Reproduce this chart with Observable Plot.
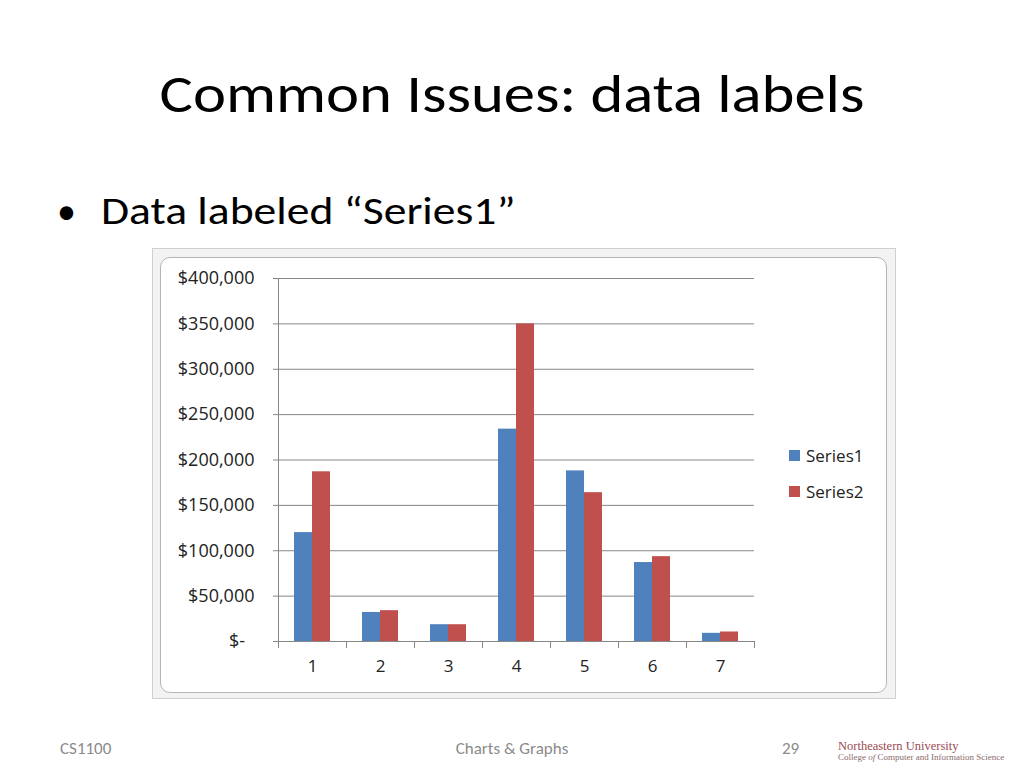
<!DOCTYPE html>
<html>
<head>
<meta charset="utf-8">
<script src="https://cdn.jsdelivr.net/npm/d3@7"></script>
<script src="https://cdn.jsdelivr.net/npm/@observablehq/plot@0.6"></script>
<style>
  html, body { margin: 0; padding: 0; background: #fff; }
  body { width: 1024px; height: 768px; position: relative; overflow: hidden;
         font-family: Carlito, Calibri, Lato, "Open Sans", sans-serif; }
  .abs { position: absolute; white-space: nowrap; }
  #title { left: 0; width: 1024px; top: 61px; text-align: center; font-size: 54px; color: #000;
           transform: scaleX(1.16); transform-origin: 512px 0; }
  #bulletDot { left: 57px; top: 188px; font-size: 38px; color: #000; }
  #bullet { left: 101px; top: 188px; font-size: 38px; color: #000;
            transform: scaleX(1.2); transform-origin: 0 0; }
  #frameOuter { left: 152px; top: 248px; width: 742px; height: 449px; background: #f3f3f3;
                border: 1px solid #cfcfcf; }
  #frameInner { left: 160px; top: 257px; width: 725px; height: 434px; background: #fff;
                border: 1px solid #b5b5b5; border-radius: 10px; }
  #chart { left: 152px; top: 248px; }
  .leg { font-family: "Open Sans", sans-serif; font-size: 17px; color: #222; display: flex; align-items: center; }
  .sw { width: 11px; height: 11px; display: inline-block; margin-right: 6px; }
  .foot { top: 738px; font-size: 17px; color: #8a8a8a; }
  #logo1 { left: 838px; top: 739px; font-family: "Liberation Serif", "DejaVu Serif", serif; font-size: 12.5px; color: #9b4a52; }
  #logo2 { left: 838px; top: 752px; font-family: "Liberation Serif", "DejaVu Serif", serif; font-size: 9px; color: #8a6a6a; }
</style>
</head>
<body>
<div id="title" class="abs">Common Issues: data labels</div>
<div id="bulletDot" class="abs">•</div>
<div id="bullet" class="abs">Data labeled “Series1”</div>
<div id="frameOuter" class="abs"></div>
<div id="frameInner" class="abs"></div>
<div id="chart" class="abs"></div>
<div id="legend"></div>
<div class="abs foot" style="left:60px;">CS1100</div>
<div class="abs foot" style="left:0;width:1024px;text-align:center;">Charts &amp; Graphs</div>
<div class="abs foot" style="left:782px;">29</div>
<div id="logo1" class="abs">Northeastern University</div>
<div id="logo2" class="abs">College <i>of</i> Computer and Information Science</div>
<script>
// ---- data ----
const categories = ["1", "2", "3", "4", "5", "6", "7"];
const seriesNames = ["Series1", "Series2"];
const series1 = [120000, 32000, 18500, 234000, 188000, 87000, 9000];
const series2 = [187000, 34000, 18500, 350000, 164000, 93500, 10500];
const yTicks = [0, 50000, 100000, 150000, 200000, 250000, 300000, 350000, 400000];
const colors = ["#4F81BD", "#C0504D"];

const rows = [];
categories.forEach((c, i) => {
  rows.push({cat: c, series: seriesNames[0], value: series1[i]});
  rows.push({cat: c, series: seriesNames[1], value: series2[i]});
});

const fmt = v => v === 0 ? "$-\u00a0\u00a0" : "$" + d3.format(",")(v);
const font = "'Open Sans', sans-serif";

const chart = Plot.plot({
  width: 744,
  height: 451,
  marginLeft: 123,
  marginRight: 139,
  marginTop: 30,
  marginBottom: 58,
  style: {background: "transparent", fontFamily: font, fontSize: "17px", color: "#222"},
  fx: {domain: categories, padding: 0, label: null},
  x: {domain: seriesNames, paddingInner: 0, paddingOuter: 0.81, axis: null},
  y: {domain: [0, 400000], label: null},
  color: {domain: seriesNames, range: colors},
  marks: [
    Plot.ruleY(yTicks, {stroke: "#878787", strokeWidth: 1}),
    Plot.barY(rows, {fx: "cat", x: "series", y: "value", fill: "series"}),
    Plot.frame({anchor: "left", facetAnchor: "left", stroke: "#878787"}),
    Plot.frame({anchor: "left", insetTop: 363, insetBottom: -6, stroke: "#878787"}),
    Plot.frame({anchor: "right", insetTop: 363, insetBottom: -6, stroke: "#878787"}),
    Plot.axisY({ticks: yTicks, tickFormat: fmt, tickSize: 5, tickPadding: 19, stroke: "#878787", label: null, fontSize: 18}),
    Plot.axisFx({anchor: "bottom", tickSize: 0, tickPadding: 18, label: null, fontSize: 17})
  ]
});
document.getElementById("chart").appendChild(chart);

// legend
const legend = document.getElementById("legend");
seriesNames.forEach((s, i) => {
  const d = document.createElement("div");
  d.className = "abs leg";
  d.style.left = "789px";
  d.style.top = (444 + i * 36) + "px";
  d.innerHTML = `<span class="sw" style="background:${colors[i]}"></span>${s}`;
  legend.appendChild(d);
});
</script>
</body>
</html>
